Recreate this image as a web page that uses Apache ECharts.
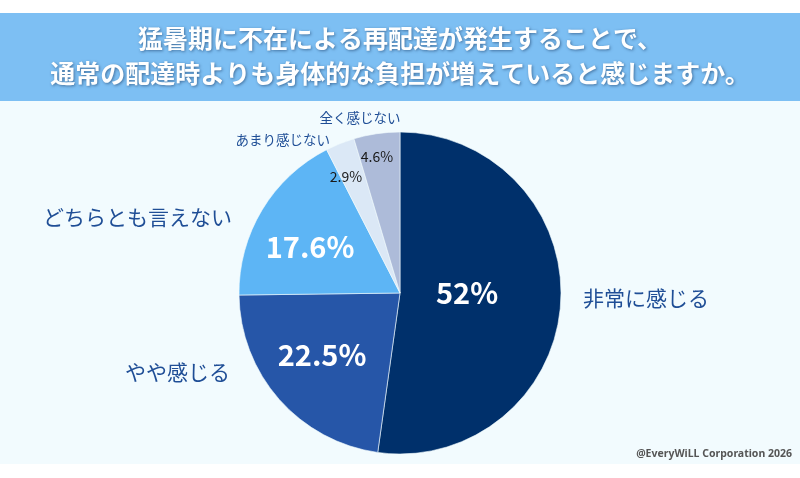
<!DOCTYPE html>
<html>
<head>
<meta charset="utf-8">
<script src="https://cdn.jsdelivr.net/npm/echarts@6/dist/echarts.min.js"></script>
<style>
  html, body { margin: 0; padding: 0; background: #ffffff; }
  #chart { width: 800px; height: 478px; }
</style>
</head>
<body>
<div id="chart"></div>
<script>
const TITLE = "猛暑期に不在による再配達が発生することで、\n通常の配達時よりも身体的な負担が増えていると感じますか。";
const CATEGORIES = ["非常に感じる", "やや感じる", "どちらとも言えない", "あまり感じない", "全く感じない"];
const VALUES = [52, 22.5, 17.6, 2.9, 4.6];
const COLORS = ["#00306b", "#2656a8", "#5db5f5", "#dbe8f6", "#adbbd9"];
const CREDIT = "@EveryWiLL Corporation 2026";

// pie geometry
const CX = 400, CY = 293, R = 161;
// label anchors, relative to the pie centre
const INNER_AT = [[67, 0], [-78, 62], [-90, -46], [-54, -116], [-23, -136]];
const OUTER_AT = [[183, 5, "left"], [-170, 79, "right"], [-168, -76, "right"], [-70, -153, "right"], [-40, -175, "center"]];

const FONT = "'Noto Sans CJK JP', 'Noto Sans', sans-serif";

const chart = echarts.init(document.getElementById("chart"));

const bigLabel = { fontSize: 29, fontWeight: "bold", color: "#ffffff" };
const smallLabel = { fontSize: 14, fontWeight: "normal", color: "#1a1a1a" };

const pieData = CATEGORIES.map((name, i) => ({
  name,
  value: VALUES[i],
  itemStyle: { color: COLORS[i] },
  label: VALUES[i] > 10 ? bigLabel : smallLabel
}));

const nameData = CATEGORIES.map((name, i) => ({
  name,
  value: VALUES[i],
  label: VALUES[i] > 10 ? { fontSize: 21 } : { fontSize: 13.5 }
}));

chart.setOption({
  backgroundColor: "#ffffff",
  animation: false,
  textStyle: { fontFamily: FONT },
  graphic: [
    { type: "rect", shape: { x: 0, y: 13, width: 800, height: 88 }, style: { fill: "#7dbff3" }, z: -10 },
    { type: "rect", shape: { x: 0, y: 101, width: 800, height: 363 }, style: { fill: "#f2fbfe" }, z: -10 },
    {
      type: "text", x: 400, y: 21,
      style: {
        text: TITLE,
        align: "center",
        fill: "#ffffff",
        font: "bold 25px " + FONT,
        lineHeight: 35,
        textShadowColor: "rgba(20,50,90,0.55)",
        textShadowBlur: 3,
        textShadowOffsetX: 1,
        textShadowOffsetY: 1
      }
    },
    {
      type: "text", right: 8, top: 449,
      style: { text: CREDIT, fill: "#555555", font: "bold 10.5px 'Noto Sans', sans-serif" }
    }
  ],
  series: [
    {
      type: "pie",
      center: [CX, CY],
      radius: [0, R],
      startAngle: 90,
      clockwise: true,
      silent: true,
      itemStyle: { borderColor: "#f2fbfe", borderWidth: 0.6 },
      label: {
        show: true,
        position: "inside",
        fontFamily: FONT,
        formatter: p => p.value + "%"
      },
      labelLayout: p => ({
        x: CX + INNER_AT[p.dataIndex][0],
        y: CY + INNER_AT[p.dataIndex][1],
        align: "center",
        verticalAlign: "middle"
      }),
      data: pieData
    },
    {
      type: "pie",
      center: [CX, CY],
      radius: [0, R],
      startAngle: 90,
      clockwise: true,
      silent: true,
      itemStyle: { color: "transparent" },
      label: {
        show: true,
        position: "inside",
        fontFamily: FONT,
        color: "#1f4e96",
        formatter: p => p.name
      },
      labelLine: { show: false },
      labelLayout: p => ({
        x: CX + OUTER_AT[p.dataIndex][0],
        y: CY + OUTER_AT[p.dataIndex][1],
        align: OUTER_AT[p.dataIndex][2],
        verticalAlign: "middle"
      }),
      data: nameData
    }
  ]
});
</script>
</body>
</html>
